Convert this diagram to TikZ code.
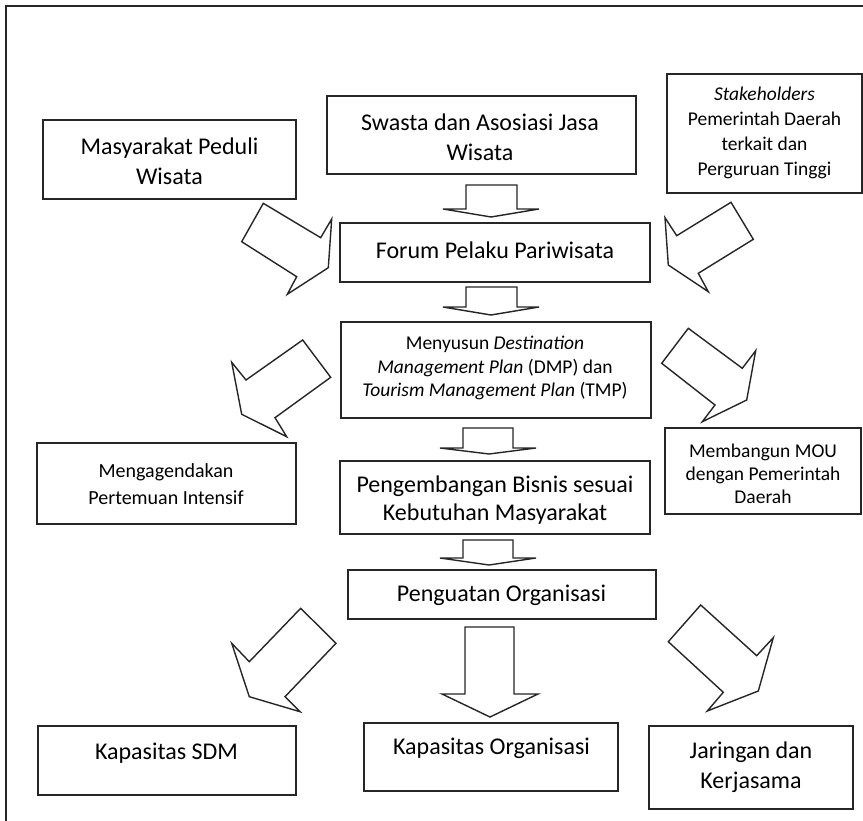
\documentclass[tikz,border=0pt]{standalone}
\usepackage{fontspec}
\setmainfont{Carlito}
\begin{document}
\begin{tikzpicture}[x=1pt,y=-1pt,
  box/.style={draw=black!85, line width=1.8pt, inner sep=0pt},
  big/.style={font=\fontsize{24}{30}\selectfont, align=center, inner sep=0pt},
  small/.style={font=\fontsize{19.5}{25}\selectfont, align=center, inner sep=0pt},
  blockarrow/.style={draw=black!85, line width=1.4pt, line join=miter, fill=white}]
\useasboundingbox (0,0) rectangle (863,821);
\fill[white] (0,0) rectangle (863,821);
% frame
\draw[line width=2pt, black!85] (6,821) -- (6,6) -- (863,6);

% boxes
\node[box, minimum width=253pt, minimum height=79pt] (masy) at (169.5,159.5) {};
\node[box, minimum width=309pt, minimum height=78pt] (swasta) at (481.5,135) {};
\node[box, minimum width=195pt, minimum height=119pt] (stake) at (764.5,133.5) {};
\node[box, minimum width=310pt, minimum height=59pt] (forum) at (495,252.5) {};
\node[box, minimum width=310pt, minimum height=96pt] (dmp) at (496,370) {};
\node[box, minimum width=259pt, minimum height=81pt] (agenda) at (166.5,483.5) {};
\node[box, minimum width=310pt, minimum height=73pt] (bisnis) at (495,497.5) {};
\node[box, minimum width=196pt, minimum height=86pt] (mou) at (763,471) {};
\node[box, minimum width=308pt, minimum height=49pt] (org) at (502,594.5) {};
\node[box, minimum width=258pt, minimum height=69pt] (sdm) at (167,760.5) {};
\node[box, minimum width=254pt, minimum height=68pt] (kaporg) at (491,757) {};
\node[box, minimum width=204pt, minimum height=83pt] (jar) at (751,767.5) {};

% texts
\node[big] (tmasy) at (169.5,161) {Masyarakat Peduli\\Wisata};
\node[big] (tswasta) at (480,137) {Swasta dan Asosiasi Jasa\\Wisata};
\node[small] (tstake) at (764.5,133) {\textit{Stakeholders}\\Pemerintah Daerah\\terkait dan\\Perguruan Tinggi};
\node[big] (tforum) at (495,250) {Forum Pelaku Pariwisata};
\node[small, font=\fontsize{19.5}{23.5}\selectfont] (tdmp) at (495,368) {Menyusun \textit{Destination}\\\textit{Management Plan} (DMP) dan\\\textit{Tourism Management Plan} (TMP)};
\node[small, font=\fontsize{20}{27.5}\selectfont] (tagenda) at (166,484) {Mengagendakan\\Pertemuan Intensif};
\node[big, font=\fontsize{24}{28.5}\selectfont] (tbisnis) at (495,500) {Pengembangan Bisnis sesuai\\Kebutuhan Masyarakat};
\node[small, font=\fontsize{19.5}{23}\selectfont] (tmou) at (763,474) {Membangun MOU\\dengan Pemerintah\\Daerah};
\node[big] (torg) at (501.5,595) {Penguatan Organisasi};
\node[big] (tsdm) at (166.5,753) {Kapasitas SDM};
\node[big] (tkaporg) at (491.5,748) {Kapasitas Organisasi};
\node[big] (tjar) at (751,767) {Jaringan dan\\Kerjasama};

% straight down block arrows
\draw[blockarrow] (466,185) -- (517,185) -- (517,209) -- (539,209) -- (491,217) -- (443,209) -- (466,209) -- cycle;
\draw[blockarrow] (466,287) -- (517,287) -- (517,307) -- (539,307) -- (491,315) -- (443,307) -- (466,307) -- cycle;
\draw[blockarrow] (463,428) -- (513,428) -- (513,448) -- (536,448) -- (489,454) -- (440,448) -- (463,448) -- cycle;
\draw[blockarrow] (463,540) -- (513,540) -- (513,558) -- (536,558) -- (489,565) -- (440,558) -- (463,558) -- cycle;
\draw[blockarrow] (465,627) -- (514,627) -- (514,694) -- (538,694) -- (490,717) -- (442,694) -- (465,694) -- cycle;

% diagonal block arrows
\draw[blockarrow] (263.3,203.3) -- (320.7,237.7) -- (331.7,219) -- (328.3,267.7) -- (287.3,294.3) -- (296.7,276.7) -- (241.7,241.7) -- cycle;
\draw[blockarrow] (731,202.3) -- (753.3,239.3) -- (698.3,273.3) -- (708.3,291.7) -- (668.3,265) -- (665,217.7) -- (676.7,235.7) -- cycle;
\draw[blockarrow] (302.7,340) -- (330.7,377.3) -- (275,417.7) -- (286.7,436.7) -- (241.7,414.3) -- (231.7,362.3) -- (246,380) -- cycle;
\draw[blockarrow] (688.3,328.3) -- (742.3,368.3) -- (755.7,350.7) -- (746.7,400) -- (702.3,421.7) -- (715,405) -- (661.7,363.3) -- cycle;
\draw[blockarrow] (300.7,608.3) -- (336,643.3) -- (285,696.7) -- (300,711.7) -- (249.3,696.7) -- (231.7,643.3) -- (249.3,661.7) -- cycle;
\draw[blockarrow] (700.7,605) -- (756.7,655.7) -- (773.3,637.7) -- (758.3,691) -- (707.3,711) -- (723.3,692.3) -- (668.3,641.7) -- cycle;
\end{tikzpicture}
\end{document}
